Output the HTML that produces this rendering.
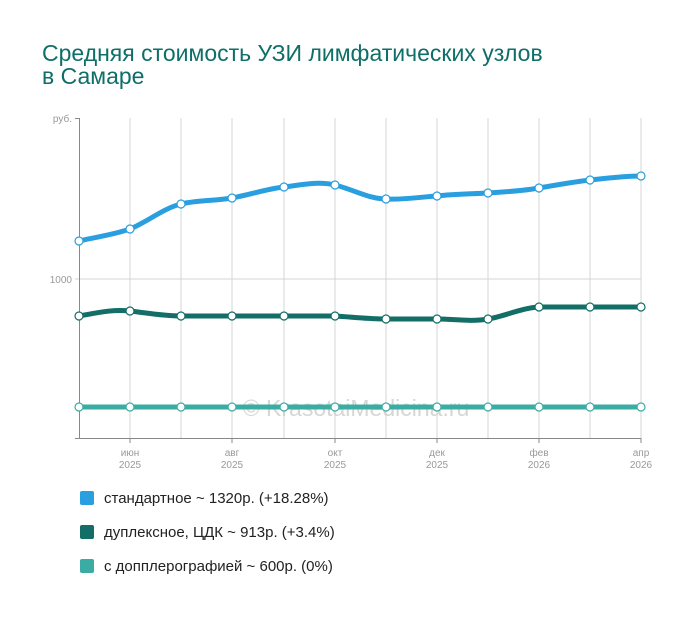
<!DOCTYPE html><html><head><meta charset="utf-8"><style>body{margin:0;background:#fff;font-family:"Liberation Sans",sans-serif}</style></head><body>
<svg width="700" height="616" xmlns="http://www.w3.org/2000/svg" font-family="Liberation Sans, sans-serif">
<text x="42" y="61" font-size="23" fill="#0e6e68">Средняя стоимость УЗИ лимфатических узлов</text>
<text x="42" y="84" font-size="23" fill="#0e6e68">в Самаре</text>
<g stroke="#d4d4d4" stroke-width="1">
<line x1="130" y1="118" x2="130" y2="438"/><line x1="181" y1="118" x2="181" y2="438"/><line x1="232" y1="118" x2="232" y2="438"/><line x1="284" y1="118" x2="284" y2="438"/><line x1="335" y1="118" x2="335" y2="438"/><line x1="386" y1="118" x2="386" y2="438"/><line x1="437" y1="118" x2="437" y2="438"/><line x1="488" y1="118" x2="488" y2="438"/><line x1="539" y1="118" x2="539" y2="438"/><line x1="590" y1="118" x2="590" y2="438"/><line x1="641" y1="118" x2="641" y2="438"/>
<line x1="75" y1="279" x2="641" y2="279"/></g>
<g stroke="#888" stroke-width="1"><line x1="79.5" y1="118" x2="79.5" y2="438"/><line x1="75" y1="438.5" x2="641" y2="438.5"/><line x1="75" y1="118.5" x2="79" y2="118.5"/>
<line x1="130" y1="438" x2="130" y2="443"/><line x1="232" y1="438" x2="232" y2="443"/><line x1="335" y1="438" x2="335" y2="443"/><line x1="437" y1="438" x2="437" y2="443"/><line x1="539" y1="438" x2="539" y2="443"/><line x1="641" y1="438" x2="641" y2="443"/></g>
<g font-size="10" fill="#999"><text x="72" y="122" text-anchor="end">руб.</text><text x="72" y="283" text-anchor="end">1000</text>
<g text-anchor="middle"><text x="130" y="456">июн</text><text x="130" y="468">2025</text><text x="232" y="456">авг</text><text x="232" y="468">2025</text><text x="335" y="456">окт</text><text x="335" y="468">2025</text><text x="437" y="456">дек</text><text x="437" y="468">2025</text><text x="539" y="456">фев</text><text x="539" y="468">2026</text><text x="641" y="456">апр</text><text x="641" y="468">2026</text></g></g>
<text x="356" y="416" font-size="23" fill="#ccc" fill-opacity="0.8" text-anchor="middle">© KrasotaiMedicina.ru</text>
<g fill="none" stroke-width="5" stroke-linecap="round" stroke-linejoin="round">
<path stroke="#2a9fe0" d="M79,241 C96,237 113,235 130,229 C147,222 164,208 181,204 C198,200 215,201 232,198 C249,195 266,189 284,187 C301,185 318,181 335,185 C352,189 369,199 386,199 C403,200 420,197 437,196 C454,194 471,194 488,193 C505,192 522,191 539,188 C556,185 573,182 590,180 C607,178 624,176 641,176"/>
<path stroke="#126e66" d="M79,316 C96,313 113,309 130,311 C147,313 164,316 181,316 L335,316 C352,317 369,319 386,319 L437,319 C454,319 471,322 488,319 C505,316 522,308 539,307 L641,307"/>
<path stroke="#3aaca3" d="M79,407 L641,407"/></g>
<g fill="#fff" stroke-width="1.2">
<g stroke="#2a9fe0"><circle cx="79" cy="241" r="4"/><circle cx="130" cy="229" r="4"/><circle cx="181" cy="204" r="4"/><circle cx="232" cy="198" r="4"/><circle cx="284" cy="187" r="4"/><circle cx="335" cy="185" r="4"/><circle cx="386" cy="199" r="4"/><circle cx="437" cy="196" r="4"/><circle cx="488" cy="193" r="4"/><circle cx="539" cy="188" r="4"/><circle cx="590" cy="180" r="4"/><circle cx="641" cy="176" r="4"/></g>
<g stroke="#126e66"><circle cx="79" cy="316" r="4"/><circle cx="130" cy="311" r="4"/><circle cx="181" cy="316" r="4"/><circle cx="232" cy="316" r="4"/><circle cx="284" cy="316" r="4"/><circle cx="335" cy="316" r="4"/><circle cx="386" cy="319" r="4"/><circle cx="437" cy="319" r="4"/><circle cx="488" cy="319" r="4"/><circle cx="539" cy="307" r="4"/><circle cx="590" cy="307" r="4"/><circle cx="641" cy="307" r="4"/></g>
<g stroke="#3aaca3"><circle cx="79" cy="407" r="4"/><circle cx="130" cy="407" r="4"/><circle cx="181" cy="407" r="4"/><circle cx="232" cy="407" r="4"/><circle cx="284" cy="407" r="4"/><circle cx="335" cy="407" r="4"/><circle cx="386" cy="407" r="4"/><circle cx="437" cy="407" r="4"/><circle cx="488" cy="407" r="4"/><circle cx="539" cy="407" r="4"/><circle cx="590" cy="407" r="4"/><circle cx="641" cy="407" r="4"/></g></g>
<rect x="80" y="491" width="14" height="14" rx="2" fill="#2a9fe0"/><rect x="80" y="525" width="14" height="14" rx="2" fill="#126e66"/><rect x="80" y="559" width="14" height="14" rx="2" fill="#3aaca3"/>
<g font-size="15" fill="#222"><text x="104" y="503">стандартное ~ 1320р. (+18.28%)</text><text x="104" y="537">дуплексное, ЦДК ~ 913р. (+3.4%)</text><text x="104" y="571">с допплерографией ~ 600р. (0%)</text></g>
</svg></body></html>
